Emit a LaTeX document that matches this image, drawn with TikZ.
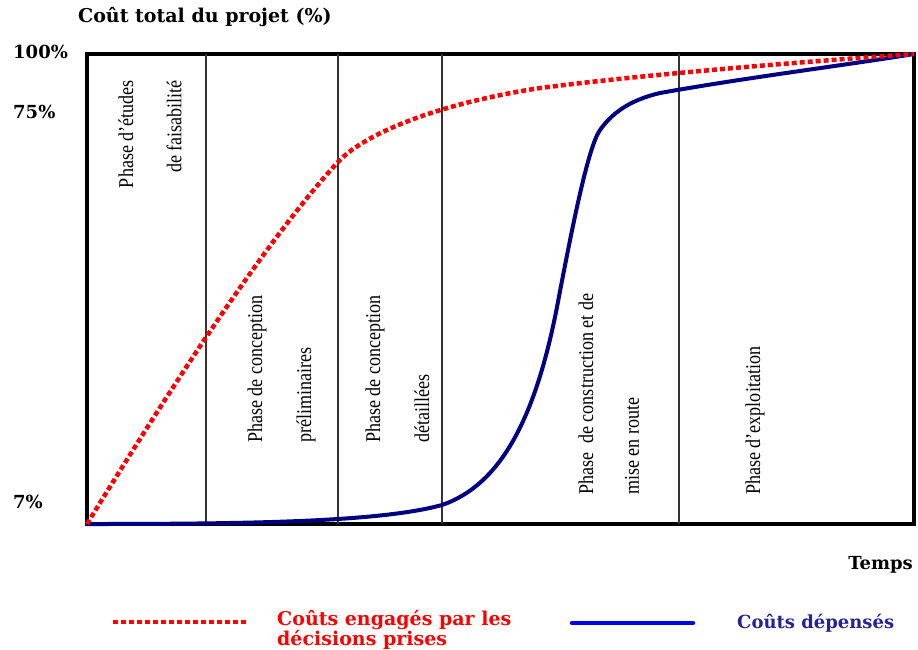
\documentclass[tikz,border=0pt]{standalone}
\usepackage{fontspec}
\setmainfont{Liberation Serif}
\newfontfamily\widefont{DejaVu Serif}
\usetikzlibrary{positioning}
\definecolor{spentnavy}{RGB}{0,0,128}
\definecolor{legendblue}{RGB}{0,0,235}
\definecolor{legendnavy}{RGB}{35,35,150}
\newcommand{\narrowtext}[1]{\scalebox{0.86}[1]{#1}}
\tikzset{
  phaselabel/.style={font=\fontsize{21}{21}\selectfont, rotate=90, inner sep=0pt},
  axislabel/.style={font=\widefont\bfseries\fontsize{18}{18}\selectfont, inner sep=0pt},
  divider/.style={black!80, line width=1.2pt},
  engaged/.style={red, line width=4.5pt, dash pattern=on 5pt off 3pt},
  spent/.style={spentnavy, line width=4pt, line cap=round, line join=round},
}

\begin{document}
\begin{tikzpicture}[x=1pt,y=-1pt]
\useasboundingbox (0,0) rectangle (918,649);
\draw[line width=3.5pt] (87,54) rectangle (914,524);
\draw[divider] (206,54) -- (206,524);
\draw[divider] (338,54) -- (338,524);
\draw[divider] (442,54) -- (442,524);
\draw[divider] (679,54) -- (679,524);

\node[axislabel, anchor=west, font=\widefont\bfseries\fontsize{19}{19}\selectfont] (title) at (78,17) {Coût total du projet (\%)};
\node[axislabel, anchor=west] (t100) at (13,52) {100\%};
\node[axislabel, anchor=west] (t75) at (13,112) {75\%};
\node[axislabel, anchor=west] (t7) at (13,502) {7\%};
\node[axislabel, anchor=east] (temps) at (913,565) {Temps};

\node[phaselabel, anchor=east] (etudesA) at (126,80) {\narrowtext{Phase d'études}};
\node[phaselabel, anchor=east] (etudesB) at (174,80) {\narrowtext{de faisabilité}};
\node[phaselabel, anchor=west] (prelimA) at (257,443) {\narrowtext{Phase de conception}};
\node[phaselabel, anchor=west] (prelimB) at (306,443) {\narrowtext{préliminaires}};
\node[phaselabel, anchor=west] (detailA) at (375,443) {\narrowtext{Phase de conception}};
\node[phaselabel, anchor=west] (detailB) at (422,443) {\narrowtext{détaillées}};
\node[phaselabel, anchor=west] (constrA) at (586,495) {\narrowtext{Phase\ \ de construction et de}};
\node[phaselabel, anchor=west] (constrB) at (632,495) {\narrowtext{mise en route}};
\node[phaselabel, anchor=west] (exploit) at (755,495) {\narrowtext{Phase d'exploitation}};

\draw[spent] (87,524) .. controls (250,524) and (380,522) .. (442,505)
  .. controls (500,485) and (535,420) .. (557,307)
  .. controls (572,228) and (588,147) .. (600,130)
  .. controls (612,113) and (630,100) .. (660,93)
  .. controls (750,77) and (840,66) .. (914,54);
\draw[engaged] (87,524) .. controls (200,340) and (280,225) .. (338,162)
  .. controls (362,136) and (430,105) .. (540,88)
  .. controls (650,74) and (800,62) .. (914,54);

\coordinate (engagedA) at (113,622);
\coordinate (engagedB) at (247,622);
\draw[engaged] (engagedA) -- (engagedB);
\node[axislabel, text=red, anchor=west, align=left, font=\widefont\bfseries\fontsize{19}{20}\selectfont] (engagedtext) at (277,630) {Coûts engagés par les\\décisions prises};
\coordinate (spentA) at (572,623);
\coordinate (spentB) at (693,623);
\draw[legendblue, line width=4.5pt, line cap=round] (spentA) -- (spentB);
\node[axislabel, text=legendnavy, anchor=west] (spenttext) at (737,623) {Coûts dépensés};
\end{tikzpicture}
\end{document}
